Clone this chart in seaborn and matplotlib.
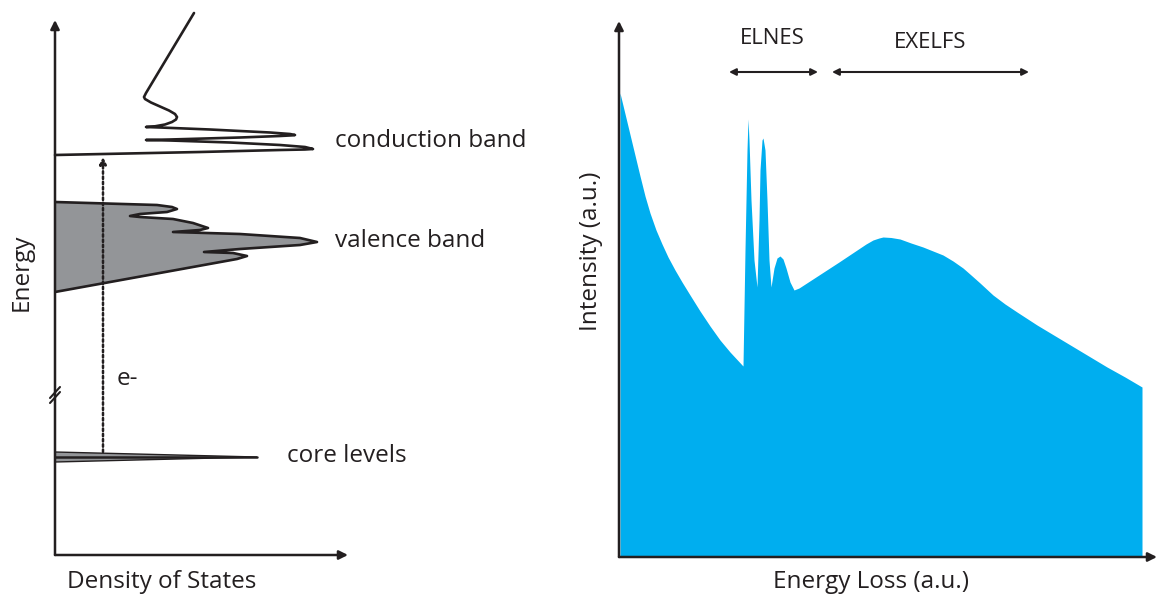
import numpy as np
import pandas as pd
import matplotlib.pyplot as plt
import seaborn as sns

sns.set_style("white")
plt.rcParams["font.family"] = ["Open Sans", "DejaVu Sans"]

# left panel: density of states (x) vs energy (y)
cond_dos = [0, 145, 225, 250, 258, 250, 225, 175, 115, 91, 115, 185, 225, 238, 240, 235, 215, 155, 105, 91,
            100, 110, 117, 121, 122, 120, 114, 105, 96, 90, 89, 91, 139]
cond_energy = [400, 403, 405, 405.5, 406, 408, 410, 412.5, 414.5, 415, 415.5, 417.5, 419, 419.7, 420, 421, 422.5,
               425.5, 427.5, 428, 428.7, 430.5, 433, 435.5, 438, 441, 444.5, 448.5, 452.5, 456, 458, 462, 542]

val_dos = [0, 102, 117, 122, 112, 85, 75, 85, 118, 138, 153, 145, 118, 185, 245, 262, 245, 185, 149, 178, 192, 182, 0]
val_energy = [353, 350, 348, 346, 343, 341, 339, 338, 336, 332, 327, 325, 323, 321, 317, 313, 310, 306, 303, 302,
              299, 296, 263]

core_dos = [0, 202, 0]
core_energy = [103, 98, 93]

# right panel: energy loss vs intensity
loss = [1, 14, 21, 26, 31, 37, 43, 49, 56, 63, 71, 81, 91, 101, 111, 124,
        126, 128, 129, 130, 132, 135, 138, 140, 141, 143, 144, 146, 148, 150, 152,
        155, 158, 161, 164, 167, 171, 175, 180,
        200, 220, 238, 247, 254, 260, 264, 272, 281, 292, 304, 314, 324, 334, 344, 352, 361, 374,
        386, 398, 418, 438, 463, 488, 506, 523]
intensity = [464, 410, 381, 361, 344, 327, 313, 300, 287, 275, 262, 246, 231, 217, 205, 191,
             307, 407, 438, 417, 357, 297, 270, 337, 387, 417, 419, 407, 357, 297, 270,
             289, 299, 301, 298, 289, 275, 267, 269,
             282, 295, 307, 313, 317, 319, 320, 319.5, 318, 314, 310, 306, 302, 296, 289, 282, 274, 262,
             253, 245, 232, 220, 205, 190, 180, 170]

ink = "#231F20"
grey = "#939598"
blue = "#00AEEF"

fig = plt.figure(figsize=(11.58, 6), dpi=100)
axL = fig.add_axes([55 / 1158, 45 / 600, 300 / 1158, 545 / 600])
axR = fig.add_axes([619 / 1158, 43 / 600, 539 / 1158, 545 / 600])
for ax in (axL, axR):
    ax.set_axis_off()
axL.set_xlim(0, 300)
axL.set_ylim(0, 545)
axR.set_xlim(0, 539)
axR.set_ylim(0, 545)

arrow = dict(arrowstyle="-|>", lw=1.8, color=ink, mutation_scale=13, shrinkA=0, shrinkB=0)

# ---- left: density of states ----
axL.annotate("", xy=(0, 535), xytext=(0, 0), arrowprops=arrow, annotation_clip=False)
axL.annotate("", xy=(293, 0), xytext=(0, 0), arrowprops=arrow, annotation_clip=False)

axL.fill_betweenx(val_energy, 0, val_dos, color=grey, lw=0)
cond = pd.DataFrame({"dos": cond_dos, "energy": cond_energy})
val = pd.DataFrame({"dos": val_dos, "energy": val_energy})
sns.lineplot(data=cond, x="dos", y="energy", sort=False, estimator=None, color=ink, lw=1.9, ax=axL, clip_on=False)
sns.lineplot(data=val, x="dos", y="energy", sort=False, estimator=None, color=ink, lw=1.9, ax=axL)

axL.fill(core_dos, core_energy, color=grey, ec=ink, lw=1.0)
axL.plot([0, 202], [98, 98], color=ink, lw=1.8)

axL.annotate("", xy=(48, 398), xytext=(48, 103),
             arrowprops=dict(arrowstyle="-|>", lw=1.8, ls=(0, (1, 1.1)), color=ink, mutation_scale=10,
                             shrinkA=0, shrinkB=0))

# axis break marks
for off in (0, 5):
    axL.plot([-5, 5], [152 + off, 163 + off], color=ink, lw=1.5, clip_on=False)

fs = 17.5
axL.text(280, 414, "conduction band", fontsize=fs, color=ink, va="center", ha="left", clip_on=False)
axL.text(280, 314, "valence band", fontsize=fs, color=ink, va="center", ha="left")
axL.text(232, 99, "core levels", fontsize=fs, color=ink, va="center", ha="left")
axL.text(62, 176, "e-", fontsize=fs, color=ink, va="center", ha="left")
axL.text(-33, 283, "Energy", fontsize=fs, color=ink, va="center", ha="center", rotation=90, clip_on=False)
axL.text(107, -27, "Density of States", fontsize=fs, color=ink, va="center", ha="center", clip_on=False)

# ---- right: EELS spectrum ----
axR.fill_between(loss, 0, intensity, color=blue, lw=0)
axR.annotate("", xy=(0, 536), xytext=(0, 0), arrowprops=arrow, annotation_clip=False)
axR.annotate("", xy=(538, 0), xytext=(0, 0), arrowprops=arrow, annotation_clip=False)

dbl = dict(arrowstyle="<|-|>", lw=1.5, color=ink, mutation_scale=10, shrinkA=0, shrinkB=0)
axR.annotate("", xy=(110, 485), xytext=(199, 485), arrowprops=dbl)
axR.annotate("", xy=(213, 485), xytext=(410, 485), arrowprops=dbl)
axR.text(153, 519, "ELNES", fontsize=16, color=ink, ha="center", va="center")
axR.text(311, 515, "EXELFS", fontsize=16, color=ink, ha="center", va="center")

axR.text(252, -25, "Energy Loss (a.u.)", fontsize=fs, color=ink, ha="center", va="center", clip_on=False)
axR.text(-28, 306, "Intensity (a.u.)", fontsize=fs, color=ink, ha="center", va="center", rotation=90,
         clip_on=False)

fig.savefig("out.png", dpi=100)
